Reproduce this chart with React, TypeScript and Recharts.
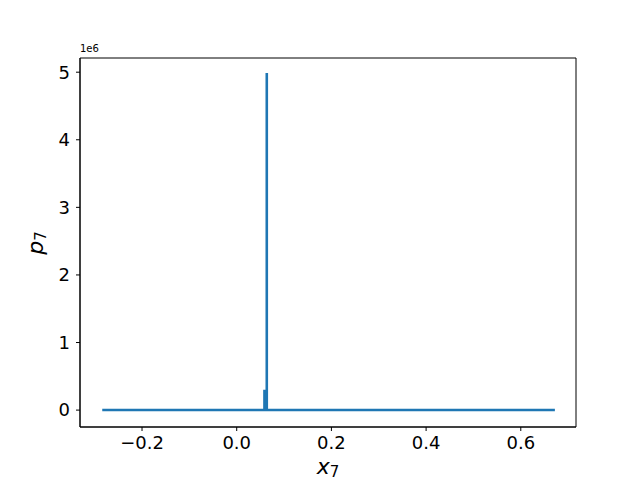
import React from 'react';
import { LineChart, Line, XAxis, YAxis, ReferenceArea, Label } from 'recharts';

const xValues = [-0.284, -0.2, -0.1, 0.0, 0.05, 0.0585, 0.0585, 0.059, 0.059, 0.0634, 0.0634, 0.0636, 0.0636, 0.064, 0.07, 0.1, 0.2, 0.3, 0.4, 0.5, 0.6, 0.672];
const yValues = [0, 0, 0, 0, 0, 0, 300000, 150000, 0, 0, 4970000, 4970000, 0, 0, 0, 0, 0, 0, 0, 0, 0, 0];
const xTicks = [-0.2, 0.0, 0.2, 0.4, 0.6];
const yTicks = [0, 1000000, 2000000, 3000000, 4000000, 5000000];

const data = xValues.map((x, i) => ({ x, y: yValues[i] }));

const X_DOMAIN: [number, number] = [-0.331, 0.7166];
const Y_DOMAIN: [number, number] = [-250000, 5210000];

const fmtX = (v: number) => (v < 0 ? '\u2212' + Math.abs(v).toFixed(1) : v.toFixed(1));
const fmtY = (v: number) => String(Math.round(v / 1e6));

const font = 'DejaVu Sans, sans-serif';

export default function App() {
  return (
    <div style={{ position: 'absolute', left: 0, top: 0, width: 640, height: 480, background: '#fff' }}>
      <LineChart width={640} height={480} data={data} margin={{ top: 58, right: 64, bottom: 0, left: 0 }}>
        <XAxis
          dataKey="x"
          type="number"
          domain={X_DOMAIN}
          ticks={xTicks}
          tickFormatter={fmtX}
          allowDataOverflow
          height={53}
          stroke="#000"
          tickSize={4}
          tickMargin={5}
          tick={{ fill: '#000', fontSize: 18, fontFamily: font }}
        >
          <Label
            content={() => (
              <text x={328} y={474} textAnchor="middle" fontFamily={font} fontSize={22} fill="#000">
                <tspan fontStyle="italic">x</tspan>
                <tspan fontSize={15} dy={3}>7</tspan>
              </text>
            )}
          />
        </XAxis>
        <YAxis
          dataKey="y"
          type="number"
          domain={Y_DOMAIN}
          ticks={yTicks}
          tickFormatter={fmtY}
          allowDataOverflow
          width={80}
          stroke="#000"
          tickSize={4}
          tickMargin={6}
          tick={{ fill: '#000', fontSize: 18, fontFamily: font }}
        >
          <Label
            content={() => (
              <g>
                <text transform="translate(43,243) rotate(-90)" textAnchor="middle" fontFamily={font} fontSize={22} fill="#000">
                  <tspan fontStyle="italic">p</tspan>
                  <tspan fontSize={15} dy={3}>7</tspan>
                </text>
                <text x={80} y={52} fontFamily={font} fontSize={10} fill="#000">1e6</text>
              </g>
            )}
          />
        </YAxis>
        <ReferenceArea x1={X_DOMAIN[0]} x2={X_DOMAIN[1]} y1={Y_DOMAIN[0]} y2={Y_DOMAIN[1]} fill="none" stroke="#000" strokeWidth={1} />
        <Line dataKey="y" stroke="#1f77b4" strokeWidth={2.5} dot={false} isAnimationActive={false} />
      </LineChart>
    </div>
  );
}
